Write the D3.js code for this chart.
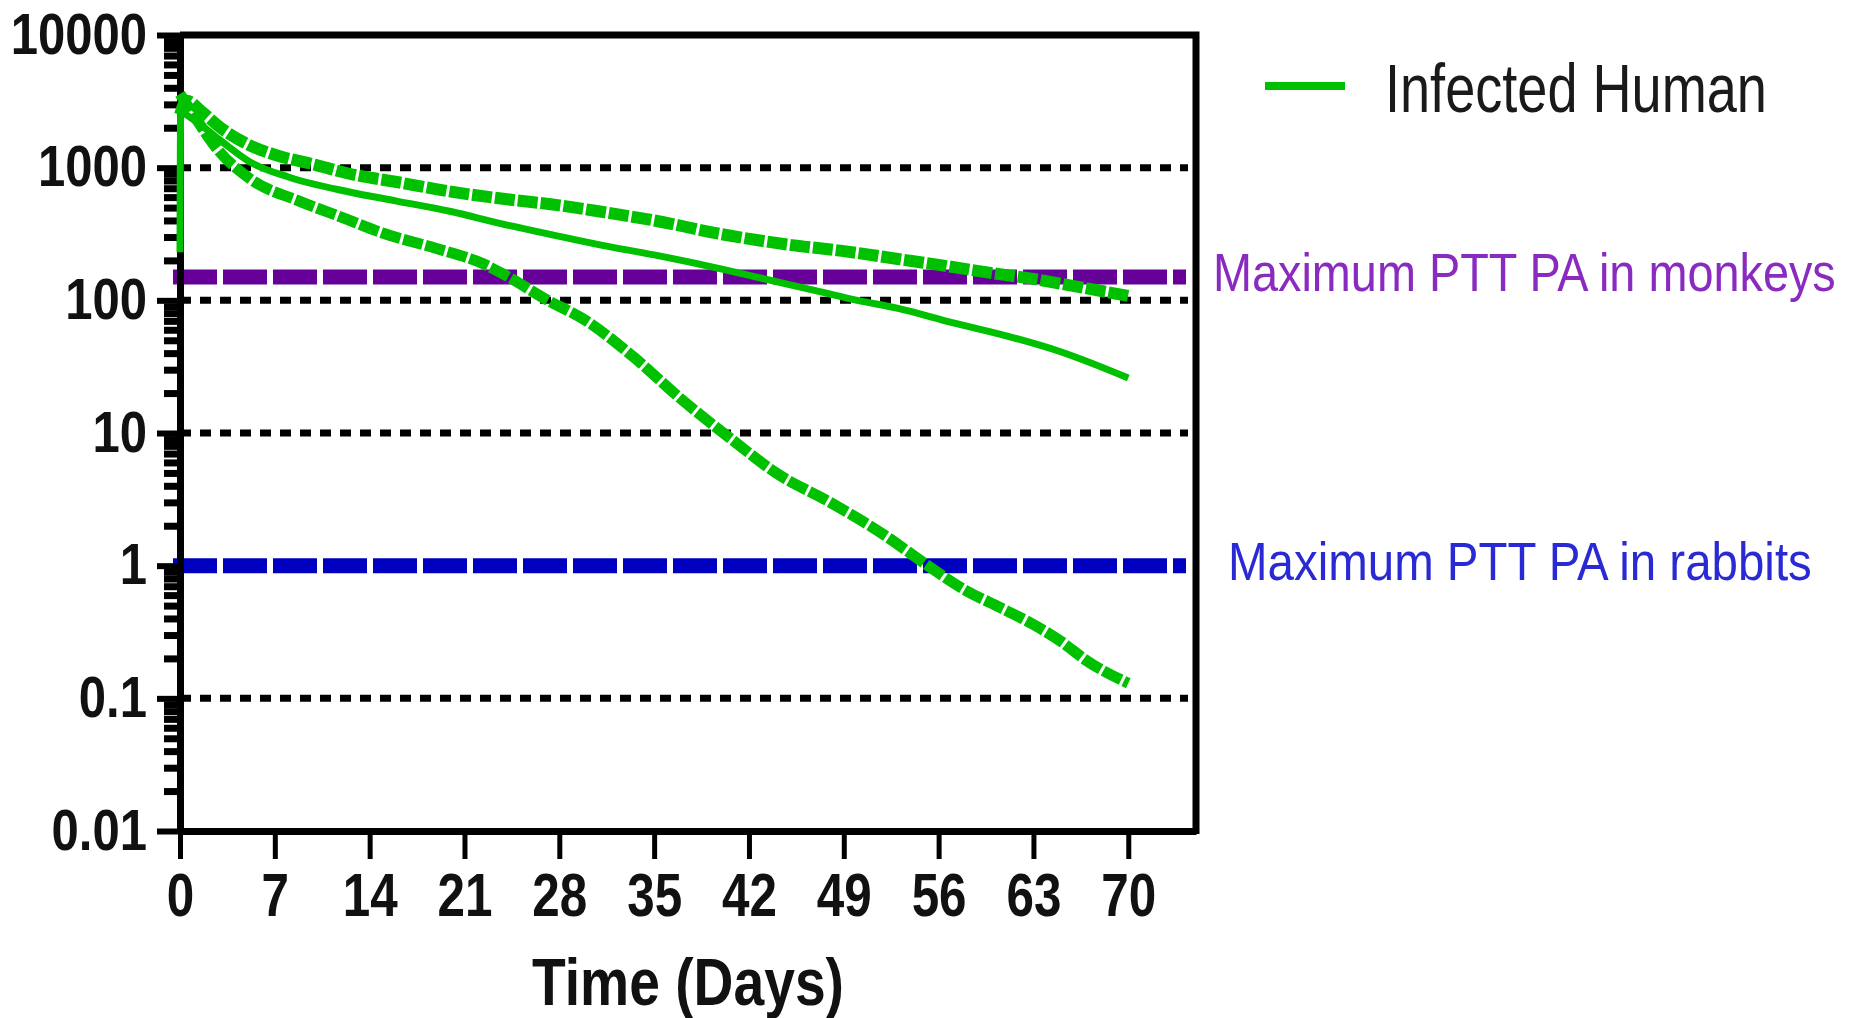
<!DOCTYPE html>
<html>
<head>
<meta charset="utf-8">
<script src="https://cdn.jsdelivr.net/npm/d3@7"></script>
<style>
  body { margin: 0; background: #fff; }
  svg { display: block; }
  text { font-family: "Liberation Sans", Arial, sans-serif; }
</style>
</head>
<body>
<div id="chart"></div>
<script>
// Values (day, concentration)
const xTicks = [0, 7, 14, 21, 28, 35, 42, 49, 56, 63, 70];
const yTicks = [0.01, 0.1, 1, 10, 100, 1000, 10000];
const gridValues = [0.1, 10, 100, 1000];

// upper dashed curve
const curveA = [[0, 2500], [0.5, 3200], [1.5, 2700], [3, 2000], [5, 1500], [7, 1250], [10, 1050],
  [12.5, 900], [16, 780], [20, 660], [24, 580], [28, 520], [31, 467], [35, 400], [40, 315],
  [45, 262], [49, 235], [53, 205], [56, 185], [60, 160], [63, 145], [66, 128], [70, 108]];
// middle solid curve
const curveB = [[0, 230], [0.05, 2600], [1, 2300], [3, 1600], [5.2, 1100], [8, 850], [12.5, 656],
  [16, 560], [20, 467], [23.6, 380], [27, 320], [31, 262], [35, 220], [40, 172], [43, 146],
  [47, 118], [50, 100], [53, 87], [57, 68], [61, 54], [65, 41], [70, 26]];
// lower dashed curve
const curveC = [[0, 3600], [1, 2500], [2.7, 1400], [5.2, 820], [8.8, 560], [12, 420], [15, 320],
  [19, 245], [22.3, 190], [24, 155], [27, 102], [30, 70], [33.4, 38], [37, 18], [41, 8.5],
  [44, 5], [48, 3], [52, 1.7], [55.2, 1.0], [58, 0.65], [60.6, 0.48], [63, 0.36], [65, 0.27],
  [67, 0.19], [70, 0.13]];

const monkeyPA = 150, rabbitPA = 1;

const width = 1850, height = 1018,
    margin = { top: 35, right: 654, bottom: 187, left: 180 };

const svg = d3.select("#chart")
    .append("svg")
    .attr("width", width)
    .attr("height", height);

let x = d3.scaleLinear()
    .domain([0, 75])
    .range([margin.left, width - margin.right]);

let y = d3.scaleLog()
    .domain([0.01, 10000])
    .range([height - margin.bottom, margin.top]);

// narrow tick glyphs the way the picture does
function squeeze(sel, k) {
  sel.each(function () {
    const w = this.getComputedTextLength();
    d3.select(this).attr("textLength", w * k).attr("lengthAdjust", "spacingAndGlyphs");
  });
}

// place a text at (px, py) squeezed horizontally to a given width
function label(px, py, str, size, target, color, opts = {}) {
  const t = svg.append("text")
    .attr("font-size", size)
    .attr("font-weight", opts.bold ? "bold" : "normal")
    .attr("fill", color)
    .attr("text-anchor", opts.anchor || "start")
    .text(str);
  const k = target / t.node().getComputedTextLength();
  t.attr("transform", `translate(${px},${py}) scale(${k},1)`);
  return t;
}

// dotted gridlines
svg.append("g")
  .selectAll("line")
  .data(gridValues)
  .join("line")
    .attr("x1", margin.left)
    .attr("x2", width - margin.right - 8)
    .attr("y1", d => y(d))
    .attr("y2", d => y(d))
    .attr("stroke", "#000")
    .attr("stroke-width", 7)
    .attr("stroke-dasharray", "11,9");

// threshold lines
const thresholds = [
  { v: monkeyPA, color: "#660099" },
  { v: rabbitPA, color: "#0000c0" }
];
svg.append("g")
  .selectAll("line")
  .data(thresholds)
  .join("line")
    .attr("x1", margin.left - 7)
    .attr("x2", width - margin.right - 10)
    .attr("y1", d => y(d.v))
    .attr("y2", d => y(d.v))
    .attr("stroke", d => d.color)
    .attr("stroke-width", 15)
    .attr("stroke-dasharray", "44,6");

// minor y ticks
let minor = [];
for (let e = -2; e < 4; e++) for (let m = 2; m < 10; m++) minor.push(m * Math.pow(10, e));

svg.append("g")
  .attr("transform", `translate(${margin.left},0)`)
  .call(d3.axisLeft(y).tickValues(minor).tickSize(16).tickSizeOuter(0).tickFormat(""))
  .call(g => g.select(".domain").remove())
  .call(g => g.selectAll(".tick line").attr("stroke-width", 7));

// y axis
svg.append("g")
  .attr("transform", `translate(${margin.left},0)`)
  .call(d3.axisLeft(y).tickValues(yTicks).tickSize(23).tickPadding(10).tickSizeOuter(0)
    .tickFormat(d => String(d)))
  .call(g => g.select(".domain").attr("stroke-width", 7))
  .call(g => g.selectAll(".tick line").attr("stroke-width", 6))
  .call(g => g.selectAll(".tick text")
    .attr("font-size", 57).attr("font-weight", "bold").attr("fill", "#111")
    .call(squeeze, 0.86));

// x axis
svg.append("g")
  .attr("transform", `translate(0,${height - margin.bottom})`)
  .call(d3.axisBottom(x).tickValues(xTicks).tickSize(28).tickPadding(14).tickSizeOuter(0))
  .call(g => g.select(".domain").attr("stroke-width", 7))
  .call(g => g.selectAll(".tick line").attr("stroke-width", 5))
  .call(g => g.selectAll(".tick text")
    .attr("font-size", 61).attr("font-weight", "bold").attr("fill", "#111")
    .call(squeeze, 0.81));

// top and right frame
svg.append("path")
  .attr("d", `M${margin.left},${y(10000)}H${width - margin.right}V${height - margin.bottom + 3}`)
  .attr("fill", "none")
  .attr("stroke", "#000")
  .attr("stroke-width", 7);

// curves
let line = d3.line()
    .x(d => x(d[0]))
    .y(d => y(d[1]))
    .curve(d3.curveMonotoneX);

const series = [
  { data: curveA, w: 12, dash: "20,3" },
  { data: curveB, w: 7, dash: null },
  { data: curveC, w: 11, dash: "20,3" }
];
svg.append("g")
  .selectAll("path")
  .data(series)
  .join("path")
    .attr("d", d => line(d.data))
    .attr("fill", "none")
    .attr("stroke", "#00c000")
    .attr("stroke-width", d => d.w)
    .attr("stroke-dasharray", d => d.dash);

// x-axis label
label((margin.left + width - margin.right) / 2, 1005, "Time (Days)", 67, 312, "#111",
  { bold: true, anchor: "middle" });

// legend
svg.append("line")
  .attr("x1", 1265).attr("x2", 1345)
  .attr("y1", 86).attr("y2", 86)
  .attr("stroke", "#00c000")
  .attr("stroke-width", 8);

label(1385, 112, "Infected Human", 68, 382, "#1a1a1a");

// threshold labels
label(1213, 291, "Maximum PTT PA in monkeys", 54, 623, "#8a2bc0");
label(1228, 580, "Maximum PTT PA in rabbits", 54, 584, "#2a2ad4");
</script>
</body>
</html>
